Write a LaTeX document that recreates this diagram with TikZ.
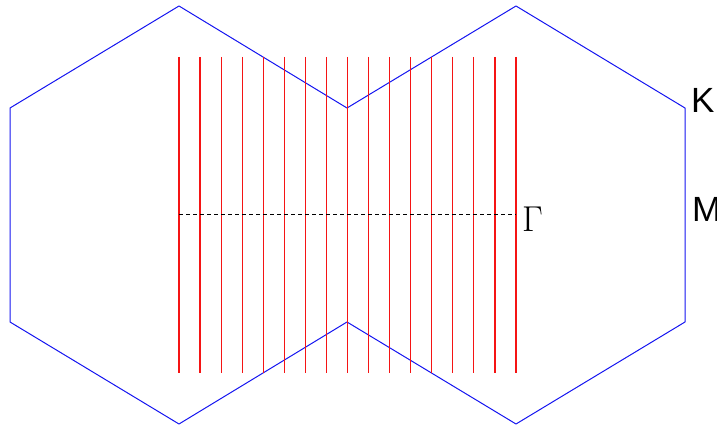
\RequirePackage{fix-cm}
\documentclass[tikz,border=0pt]{standalone}
\usepackage{fontspec}
\setsansfont{Liberation Sans}
\usepackage{tikz}
\usetikzlibrary{positioning}
\definecolor{zoneblue}{RGB}{20,20,240}
\definecolor{cutred}{RGB}{245,20,20}

\begin{document}
\begin{tikzpicture}[
  x=1pt, y=-1pt,
  zone/.style={draw=zoneblue, line width=1pt, line join=round},
  cut/.style={draw=cutred, line width=1.2pt},
  axis/.style={draw=black, line width=1pt, dash pattern=on 4pt off 3pt},
  pointlabel/.style={inner sep=0pt, anchor=base west, font=\sffamily\fontsize{35}{40}\selectfont},
  gammalabel/.style={inner sep=0pt, anchor=base west, font=\fontsize{36}{40}\selectfont}
]
\useasboundingbox (0,0) rectangle (717,427);

% left hexagon
\coordinate (lt) at (179,6);
\coordinate (lul) at (10,108);
\coordinate (lll) at (10,322);
\coordinate (lb) at (179,424);
% shared vertices
\coordinate (mu) at (347,108);
\coordinate (ml) at (347,322);
% right hexagon
\coordinate (rt) at (516,6);
\coordinate (rur) at (685,108);
\coordinate (rlr) at (685,322);
\coordinate (rb) at (516,424);

\draw[zone] (lt) -- (lul) -- (lll) -- (lb) -- (ml) -- (rb) -- (rlr) -- (rur) -- (rt) -- (mu) -- cycle;

% cuts
\foreach \i in {0,...,16} {
  \coordinate (top\i) at ({179+\i*337/16},57);
  \coordinate (bot\i) at ({179+\i*337/16},373);
  \draw[cut] (top\i) -- (bot\i);
}

\coordinate (axisstart) at (179,215);
\coordinate (axisend) at (516,215);
\draw[axis] (axisstart) -- (axisend);

\node[gammalabel] (gamma) at (522,232) {$\Gamma$};
\node[pointlabel] (kpoint) at (691,113) {K};
\node[pointlabel] (mpoint) at (692,222) {M};
\end{tikzpicture}
\end{document}
